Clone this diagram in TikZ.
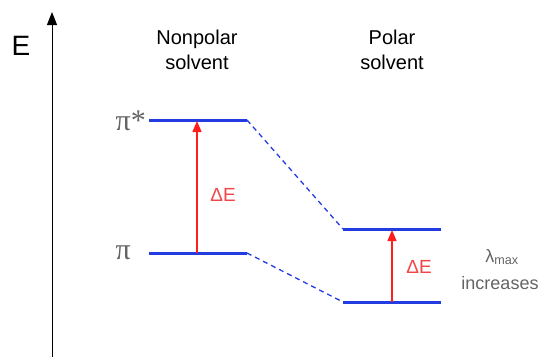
\documentclass[tikz,border=0pt]{standalone}
\usepackage{fontspec}
\setmainfont{Liberation Sans}
\newfontfamily\pifont{Liberation Serif}
\usetikzlibrary{arrows.meta}
\definecolor{lvlblue}{RGB}{35,60,225}
\definecolor{arrred}{RGB}{255,30,30}
\definecolor{lblred}{RGB}{240,70,70}
\definecolor{txtgray}{RGB}{100,100,100}
\tikzset{
  level/.style={draw=lvlblue, line width=3pt},
  corr/.style={draw=lvlblue, line width=1.3pt, dash pattern=on 5pt off 4pt},
  trans/.style={draw=arrred, line width=1.4pt, -{Triangle[length=11pt,width=9pt]}},
  dlabel/.style={text=lblred, font=\fontsize{19}{22}\selectfont, inner sep=0pt},
  head/.style={align=center, font=\fontsize{20}{25}\selectfont, inner sep=0pt},
  orb/.style={text=txtgray, font=\fontsize{30}{30}\pifont, inner sep=0pt},
}
\begin{document}
\begin{tikzpicture}[x=1pt,y=-1pt]
\useasboundingbox (0,0) rectangle (540,356);
% axis
\coordinate (ax0) at (52,357);
\coordinate (ax1) at (52,12);
\draw[line width=1pt, -{Triangle[length=13pt,width=10pt]}] (ax0) -- (ax1);
\node[font=\fontsize{28}{28}\selectfont, inner sep=0pt] (E) at (21,46) {E};
% headings
\node[head] (np) at (197,50) {Nonpolar\\solvent};
\node[head] (po) at (392,50) {Polar\\solvent};
% levels
\coordinate (a1) at (149,120); \coordinate (a2) at (247,120);
\coordinate (b1) at (149,253); \coordinate (b2) at (247,253);
\coordinate (c1) at (343,229); \coordinate (c2) at (441,229);
\coordinate (d1) at (343,302); \coordinate (d2) at (441,302);
\draw[level] (a1) -- (a2);
\draw[level] (b1) -- (b2);
\draw[level] (c1) -- (c2);
\draw[level] (d1) -- (d2);
\draw[corr] (a2) -- (c1);
\draw[corr] (b2) -- (d1);
% transitions
\coordinate (t1a) at (197,253); \coordinate (t1b) at (197,121);
\coordinate (t2a) at (392,302); \coordinate (t2b) at (392,230);
\draw[trans] (t1a) -- (t1b);
\draw[trans] (t2a) -- (t2b);
\node[dlabel] (dE1) at (223,195) {ΔE};
\node[dlabel] (dE2) at (419,267) {ΔE};
% orbital labels
\node[orb, anchor=east] (pistar) at (146,121) {π*};
\node[orb, anchor=east] (pi) at (131,253) {π};
% lambda max
\node[text=txtgray, font=\fontsize{18}{18}\selectfont, inner sep=0pt] (lam) at (502,257) {λ\textsubscript{max}};
\node[text=txtgray, font=\fontsize{18}{18}\selectfont, inner sep=0pt] (inc) at (500,283) {increases};
\end{tikzpicture}
\end{document}
